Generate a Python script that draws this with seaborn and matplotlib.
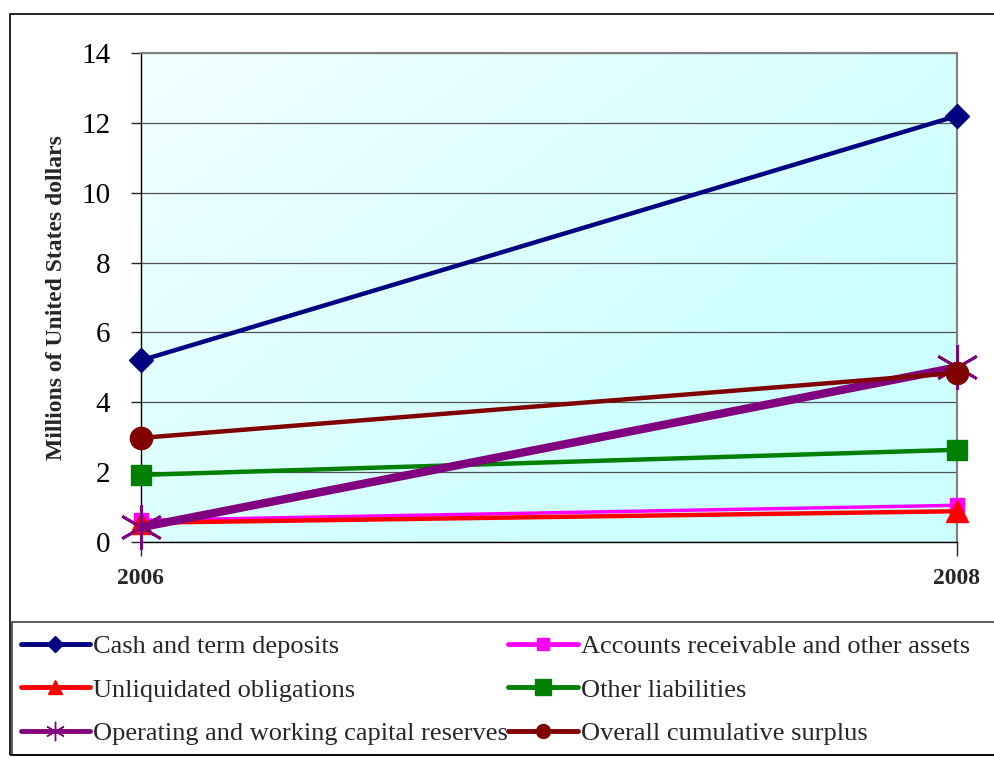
import numpy as np
import pandas as pd
import matplotlib
matplotlib.use("Agg")
import matplotlib.pyplot as plt
from matplotlib.colors import LinearSegmentedColormap
from matplotlib.patches import Rectangle
from matplotlib.lines import Line2D
import seaborn as sns

years = [2006, 2008]
cash = [5.2, 12.2]
receivable = [0.62, 1.05]
unliquidated = [0.55, 0.88]
other_liab = [1.92, 2.64]
reserves = [0.42, 5.0]
surplus = [2.98, 4.84]

series = {
    "Cash and term deposits": cash,
    "Accounts receivable and other assets": receivable,
    "Unliquidated obligations": unliquidated,
    "Other liabilities": other_liab,
    "Operating and working capital reserves": reserves,
    "Overall cumulative surplus": surplus,
}

rows = []
for name, vals in series.items():
    for y, v in zip(years, vals):
        rows.append({"year": y, "value": v, "series": name})
df = pd.DataFrame(rows)

# colour, marker, marker size, line width, z-order, legend marker size
styles = {
    "Cash and term deposits": ("#000080", "D", 12, 3.2, 5, 8),
    "Accounts receivable and other assets": ("#ff00ff", "s", 10, 2.5, 3, 8),
    "Unliquidated obligations": ("#ff0000", "^", 16, 3.2, 4, 10),
    "Other liabilities": ("#008000", "s", 15, 3.2, 5, 12),
    "Operating and working capital reserves": ("#800080", (6, 2, 0), 32, 6, 6, 14),
    "Overall cumulative surplus": ("#800000", "o", 16, 3.2, 7, 10),
}

sns.set_style("white")
plt.rcParams["font.family"] = ["Liberation Serif", "DejaVu Serif"]

fig = plt.figure(figsize=(9.95, 7.58), dpi=100)
ax = fig.add_axes([0.1417, 0.285, 0.820, 0.645])

# gradient background
cmap = LinearSegmentedColormap.from_list("bg", ["#ffffff", "#ccffff"])
gx, gy = np.meshgrid(np.linspace(0, 1, 200), np.linspace(0, 1, 200))
grad = 0.55 * gx + 0.45 * gy + 0.25
ax.imshow(grad, cmap=cmap, vmin=0, vmax=1, extent=[0, 1, 0, 1], transform=ax.transAxes,
          aspect="auto", zorder=0, origin="upper")

for name in series:
    col, mk, ms, lw, z, _ = styles[name]
    sub = df[df["series"] == name]
    sns.lineplot(data=sub, x="year", y="value", ax=ax, color=col, marker=mk,
                 markersize=ms, linewidth=lw, markeredgecolor=col,
                 markeredgewidth=2 if name.startswith("Operating") else 1,
                 zorder=z, clip_on=False, legend=False)

ax.set_xlim(2006, 2008)
ax.set_ylim(0, 14)
ax.set_yticks(range(0, 15, 2))
ax.set_xticks(years)
ax.set_xticklabels([str(y) for y in years], fontweight="bold", fontsize=17)
ax.tick_params(axis="y", labelsize=21, direction="out", length=7, width=1, left=True,
               pad=15, labelcolor="black")
ax.tick_params(axis="x", direction="out", length=10, width=1, bottom=True, pad=9)
ax.grid(axis="y", color="#505050", linewidth=0.9, zorder=1)
ax.set_axisbelow(True)
ax.set_xlabel("")
ax.set_ylabel("Millions of United States dollars", fontweight="bold", fontsize=17, labelpad=10)
for s in ["top", "right"]:
    ax.spines[s].set_color("#808080")
    ax.spines[s].set_linewidth(1.5)
for s in ["left", "bottom"]:
    ax.spines[s].set_color("#000000")
    ax.spines[s].set_linewidth(1)

# legend, row-major order like the original
order = [
    "Cash and term deposits",
    "Unliquidated obligations",
    "Operating and working capital reserves",
    "Accounts receivable and other assets",
    "Other liabilities",
    "Overall cumulative surplus",
]
handles = []
for name in order:
    col, mk, ms, lw, z, lms = styles[name]
    handles.append(Line2D([], [], color=col, marker=mk, markersize=lms,
                          linewidth=3.5, markeredgecolor=col))
leg = fig.legend(handles, order, ncol=2, loc="upper left",
                 bbox_to_anchor=(0.014, 0.171), fontsize=19, frameon=False,
                 handlelength=2.65, handletextpad=0.1, borderaxespad=0,
                 labelspacing=0.75, columnspacing=0.0, borderpad=0.25)

# legend frame
fig.patches.append(Rectangle((0.012, 0.004), 1.0, 0.176, transform=fig.transFigure,
                             fill=False, edgecolor="#404040", linewidth=1.2))
# outer chart border
fig.patches.append(Rectangle((0.010, 0.004), 1.0, 0.978, transform=fig.transFigure,
                             fill=False, edgecolor="#000000", linewidth=1.2))

fig.savefig("out.png", dpi=100)
